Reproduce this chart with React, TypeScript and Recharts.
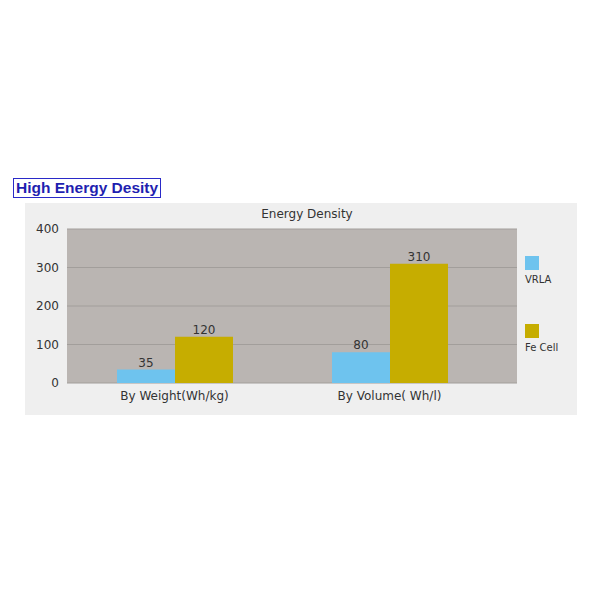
import { Bar, BarChart, CartesianGrid, LabelList, XAxis, YAxis } from "recharts";

const categories = ["By Weight(Wh/kg)", "By Volume( Wh/l)"];
const vrla = [35, 80];
const feCell = [120, 310];
const yTicks = [0, 100, 200, 300, 400];
const seriesNames = ["VRLA", "Fe Cell"];
const seriesColors = ["#6ec3ee", "#c6ad00"];

const data = categories.map((name, i) => ({ name, vrla: vrla[i], fe: feCell[i] }));

const font = "'DejaVu Sans', Verdana, sans-serif";

function LegendBox() {
  return (
    <div style={{ position: "absolute", left: 500, top: 53, fontFamily: font, fontSize: 10, color: "#333" }}>
      {seriesNames.map((n, i) => (
        <div key={n} style={{ height: i === 0 ? 68 : 40 }}>
          <div style={{ width: 14, height: 14, background: seriesColors[i] }} />
          <div style={{ marginTop: 4 }}>{n}</div>
        </div>
      ))}
    </div>
  );
}

export default function App() {
  return (
    <div style={{ position: "absolute", left: 0, top: 0, width: 600, height: 600, background: "#fff" }}>
      <div
        style={{
          position: "absolute", left: 13, top: 178, width: 144, height: 18, border: "1.5px solid #2a2ac8",
          fontFamily: "'Liberation Sans', Arial, sans-serif", fontWeight: "bold", fontSize: 15.5, color: "#1f1fb0",
          lineHeight: "18px", paddingLeft: 2,
        }}
      >
        High Energy Desity
      </div>
      <div style={{ position: "absolute", left: 25, top: 203, width: 552, height: 212, background: "#efefef" }}>
        <div style={{ position: "absolute", left: 0, width: 564, top: 4, textAlign: "center", fontFamily: font, fontSize: 12, color: "#333" }}>
          Energy Density
        </div>
        <BarChart width={552} height={212} data={data} margin={{ top: 26, right: 60, left: 0, bottom: 0 }} barGap={0} barSize={58}>
          <CartesianGrid vertical={false} fill="#bab5b2" fillOpacity={1} stroke="#a29e9b" />
          <XAxis dataKey="name" height={32} axisLine={false} tickLine={false} padding={{ left: 0, right: 20 }}
            tick={{ fontFamily: font, fontSize: 12, fill: "#333" }} interval={0} />
          <YAxis width={42} domain={[0, 400]} ticks={yTicks} axisLine={false} tickLine={false}
            tick={{ fontFamily: font, fontSize: 12, fill: "#333" }} />
          <Bar dataKey="vrla" name={seriesNames[0]} fill={seriesColors[0]} isAnimationActive={false}>
            <LabelList dataKey="vrla" position="top" offset={3} style={{ fontFamily: font, fontSize: 12, fill: "#333" }} />
          </Bar>
          <Bar dataKey="fe" name={seriesNames[1]} fill={seriesColors[1]} isAnimationActive={false}>
            <LabelList dataKey="fe" position="top" offset={3} style={{ fontFamily: font, fontSize: 12, fill: "#333" }} />
          </Bar>
        </BarChart>
        <LegendBox />
      </div>
    </div>
  );
}
